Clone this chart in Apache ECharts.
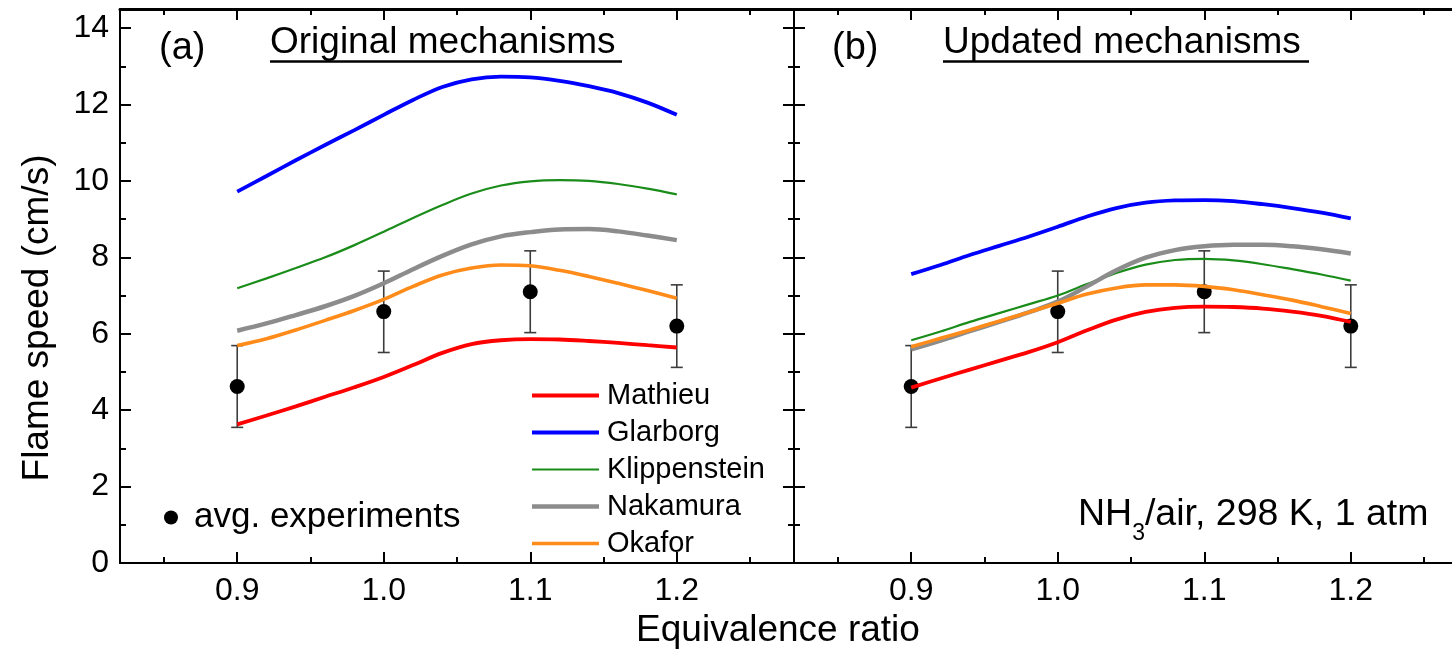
<!DOCTYPE html>
<html>
<head>
<meta charset="utf-8">
<title>NH3/air laminar flame speed</title>
<script src="https://cdn.jsdelivr.net/npm/echarts@6/dist/echarts.min.js"></script>
<style>
  html, body { margin: 0; padding: 0; background: #ffffff; }
  #chart { width: 1452px; height: 662px; }
</style>
</head>
<body>
<div id="chart"></div>
<script>
// Equivalence ratios at which the simulated curves are sampled
const phi = [0.90, 0.92, 0.94, 0.96, 0.98, 1.00, 1.02, 1.04, 1.06, 1.08, 1.10, 1.12, 1.14, 1.16, 1.18, 1.20];

// (a) original mechanisms, flame speed in cm/s
const origMathieu      = [3.63, 3.86, 4.10, 4.35, 4.60, 4.87, 5.18, 5.50, 5.73, 5.83, 5.86, 5.85, 5.81, 5.76, 5.70, 5.64];
const origGlarborg     = [9.72, 10.13, 10.54, 10.94, 11.33, 11.73, 12.12, 12.46, 12.66, 12.73, 12.71, 12.62, 12.48, 12.30, 12.05, 11.73];
const origKlippenstein = [7.19, 7.45, 7.72, 8.00, 8.32, 8.67, 9.03, 9.37, 9.67, 9.88, 9.99, 10.02, 10.00, 9.92, 9.80, 9.65];
const origNakamura     = [6.08, 6.27, 6.49, 6.72, 6.99, 7.32, 7.69, 8.04, 8.34, 8.55, 8.66, 8.73, 8.74, 8.68, 8.57, 8.45];
const origOkafor       = [5.69, 5.87, 6.10, 6.35, 6.61, 6.90, 7.24, 7.54, 7.72, 7.80, 7.78, 7.66, 7.50, 7.32, 7.13, 6.93];

// (b) updated mechanisms, flame speed in cm/s
const updMathieu      = [4.59, 4.83, 5.06, 5.29, 5.52, 5.78, 6.09, 6.37, 6.57, 6.68, 6.71, 6.70, 6.66, 6.58, 6.47, 6.31];
const updGlarborg     = [7.56, 7.80, 8.06, 8.30, 8.54, 8.80, 9.07, 9.29, 9.43, 9.49, 9.50, 9.47, 9.39, 9.29, 9.17, 9.02];
const updKlippenstein = [5.83, 6.06, 6.31, 6.54, 6.77, 7.00, 7.30, 7.59, 7.81, 7.93, 7.96, 7.92, 7.82, 7.69, 7.55, 7.39];
const updNakamura     = [5.59, 5.82, 6.07, 6.31, 6.56, 6.84, 7.24, 7.66, 7.99, 8.19, 8.29, 8.33, 8.33, 8.29, 8.21, 8.10];
const updOkafor       = [5.66, 5.88, 6.10, 6.33, 6.56, 6.80, 7.04, 7.20, 7.28, 7.28, 7.24, 7.15, 7.02, 6.88, 6.71, 6.53];

// Averaged experiments with their uncertainty range
const expPhi   = [0.9, 1.0, 1.1, 1.2];
const expSpeed = [4.62, 6.58, 7.10, 6.20];
const expLow   = [3.55, 5.51, 6.03, 5.12];
const expHigh  = [5.69, 7.64, 8.17, 7.28];

// Mechanism names and colours
const mechNames  = ['Mathieu', 'Glarborg', 'Klippenstein', 'Nakamura', 'Okafor'];
const mechColors = ['#ff0000', '#0000ff', '#1a8c1a', '#8c8c8c', '#ff8c1a'];
const mechWidths = [3.8, 3.8, 2.2, 4.5, 3.6];

// Tick values
const xMajorTicks = [0.9, 1.0, 1.1, 1.2];
const xMinorTicks = [0.85, 0.95, 1.05, 1.15, 1.25];
const yMajorTicks = [0, 2, 4, 6, 8, 10, 12, 14];
const yMinorTicks = [1, 3, 5, 7, 9, 11, 13];

const FONT = '"Liberation Sans", Arial, Helvetica, sans-serif';
const X_MIN = 0.82, X_MAX = 1.28, Y_MIN = 0, Y_MAX = 14.5;

const origSets = [origMathieu, origGlarborg, origKlippenstein, origNakamura, origOkafor];
const updSets  = [updMathieu, updGlarborg, updKlippenstein, updNakamura, updOkafor];

function xAxisSet(gridIndex, showLabels) {
  const base = { type: 'value', gridIndex, min: X_MIN, max: X_MAX, splitLine: { show: false } };
  return [
    Object.assign({}, base, {
      position: 'bottom',
      axisLine: { onZero: false, lineStyle: { color: '#000', width: 2 } },
      axisTick: { inside: true, length: 11, customValues: xMajorTicks, lineStyle: { color: '#000', width: 2 } },
      axisLabel: { show: showLabels, customValues: xMajorTicks, margin: 12, fontSize: 32, color: '#000',
                   fontFamily: FONT, formatter: v => v.toFixed(1) }
    }),
    Object.assign({}, base, {
      position: 'bottom',
      axisLine: { show: false, onZero: false },
      axisTick: { inside: true, length: 6, customValues: xMinorTicks, lineStyle: { color: '#000', width: 2 } },
      axisLabel: { show: false }
    }),
    Object.assign({}, base, {
      position: 'top',
      axisLine: { onZero: false, lineStyle: { color: '#000', width: 3 } },
      axisTick: { inside: true, length: 11, customValues: xMajorTicks, lineStyle: { color: '#000', width: 2 } },
      axisLabel: { show: false }
    }),
    Object.assign({}, base, {
      position: 'top',
      axisLine: { show: false, onZero: false },
      axisTick: { inside: true, length: 6, customValues: xMinorTicks, lineStyle: { color: '#000', width: 2 } },
      axisLabel: { show: false }
    })
  ];
}

function yAxisPair(gridIndex, position, showLabels) {
  const base = { type: 'value', gridIndex, min: Y_MIN, max: Y_MAX, position, splitLine: { show: false } };
  return [
    Object.assign({}, base, {
      axisLine: { show: true, onZero: false, lineStyle: { color: '#000', width: 2 } },
      axisTick: { inside: true, length: 11, customValues: yMajorTicks, lineStyle: { color: '#000', width: 2 } },
      axisLabel: { show: showLabels, customValues: yMajorTicks, margin: 11, fontSize: 32, color: '#000',
                   fontFamily: FONT }
    }),
    Object.assign({}, base, {
      axisLine: { show: false, onZero: false },
      axisTick: { inside: true, length: 6, customValues: yMinorTicks, lineStyle: { color: '#000', width: 2 } },
      axisLabel: { show: false }
    })
  ];
}

// Error bars: vertical line with a cap at each end
function renderErrorBar(params, api) {
  const x = api.value(0);
  const lo = api.coord([x, api.value(1)]);
  const hi = api.coord([x, api.value(2)]);
  const cap = 6;
  const style = { stroke: '#3c3c3c', lineWidth: 1.6 };
  return {
    type: 'group',
    children: [
      { type: 'line', shape: { x1: lo[0], y1: lo[1], x2: hi[0], y2: hi[1] }, style },
      { type: 'line', shape: { x1: lo[0] - cap, y1: lo[1], x2: lo[0] + cap, y2: lo[1] }, style },
      { type: 'line', shape: { x1: hi[0] - cap, y1: hi[1], x2: hi[0] + cap, y2: hi[1] }, style }
    ]
  };
}

function panelSeries(xIdx, yIdx, sets) {
  const out = [];
  out.push({
    type: 'custom', name: 'error', xAxisIndex: xIdx, yAxisIndex: yIdx, z: 2,
    renderItem: renderErrorBar, encode: { x: 0, y: [1, 2] },
    data: expPhi.map((p, i) => [p, expLow[i], expHigh[i]]), silent: true
  });
  out.push({
    type: 'scatter', name: 'avg. experiments', xAxisIndex: xIdx, yAxisIndex: yIdx, z: 3,
    symbol: 'circle', symbolSize: 15, itemStyle: { color: '#000', opacity: 1 },
    data: expPhi.map((p, i) => [p, expSpeed[i]])
  });
  sets.forEach((vals, k) => {
    out.push({
      type: 'line', name: mechNames[k], xAxisIndex: xIdx, yAxisIndex: yIdx, z: 4,
      smooth: 0.35, symbol: 'none', showSymbol: false,
      itemStyle: { color: mechColors[k] },
      lineStyle: { color: mechColors[k], width: mechWidths[k] },
      data: phi.map((p, i) => [p, vals[i]])
    });
  });
  return out;
}

function lineIcon(w) {
  const h = (100 * w / 67).toFixed(2);
  return 'path://M0,0H100V' + h + 'H0Z';
}

const chart = echarts.init(document.getElementById('chart'), null, { renderer: 'canvas' });

const option = {
  animation: false,
  backgroundColor: '#ffffff',
  textStyle: { fontFamily: FONT, color: '#000' },
  grid: [
    { left: 120, top: 9, width: 674, bottom: 99, containLabel: false, outerBoundsMode: 'none' },
    { left: 794, top: 9, width: 674, bottom: 99, containLabel: false, outerBoundsMode: 'none' }
  ],
  xAxis: [].concat(xAxisSet(0, true), xAxisSet(1, true)),
  yAxis: [].concat(yAxisPair(0, 'left', true), yAxisPair(0, 'right', false), yAxisPair(1, 'left', false)),
  legend: [
    {
      orient: 'vertical', left: 532, top: 381, padding: 0,
      itemWidth: 67, itemHeight: 28, itemGap: 8,
      symbolKeepAspect: true, selectedMode: false,
      textStyle: { fontSize: 29, fontFamily: FONT, color: '#000', padding: [0, 0, 0, 3] },
      data: mechNames.map((n, i) => ({ name: n, icon: lineIcon(mechWidths[i]) }))
    },
    {
      orient: 'vertical', left: 164, top: 500, padding: 0,
      itemWidth: 14, itemHeight: 14, selectedMode: false,
      itemStyle: { opacity: 1 },
      textStyle: { fontSize: 35, fontFamily: FONT, color: '#000', padding: [0, 0, 0, 11] },
      data: [{ name: 'avg. experiments', icon: 'circle' }]
    }
  ],
  series: [].concat(panelSeries(0, 0, origSets), panelSeries(4, 4, updSets)),
  graphic: [
    { type: 'text', x: 159, y: 49, silent: true,
      style: { text: '(a)', font: '38px ' + FONT, fill: '#000', align: 'left', verticalAlign: 'middle',
               textAlign: 'left', textVerticalAlign: 'middle' } },
    { type: 'text', x: 270, y: 43, silent: true,
      style: { text: 'Original mechanisms', font: '37px ' + FONT, fill: '#000', align: 'left', verticalAlign: 'middle',
               textAlign: 'left', textVerticalAlign: 'middle' } },
    { type: 'line', silent: true, shape: { x1: 270, y1: 61.5, x2: 622, y2: 61.5 }, style: { stroke: '#000', lineWidth: 2.5 } },
    { type: 'text', x: 832, y: 49, silent: true,
      style: { text: '(b)', font: '38px ' + FONT, fill: '#000', align: 'left', verticalAlign: 'middle',
               textAlign: 'left', textVerticalAlign: 'middle' } },
    { type: 'text', x: 943, y: 43, silent: true,
      style: { text: 'Updated mechanisms', font: '37px ' + FONT, fill: '#000', align: 'left', verticalAlign: 'middle',
               textAlign: 'left', textVerticalAlign: 'middle' } },
    { type: 'line', silent: true, shape: { x1: 943, y1: 61.5, x2: 1309, y2: 61.5 }, style: { stroke: '#000', lineWidth: 2.5 } },
    { type: 'text', x: 1078, y: 515, silent: true,
      style: {
        text: '{m|NH}{s|3}{m|/air, 298 K, 1 atm}',
        align: 'left', verticalAlign: 'middle', textAlign: 'left', textVerticalAlign: 'middle',
        rich: {
          m: { fontSize: 37.5, fontFamily: FONT, fill: '#000', color: '#000', verticalAlign: 'middle' },
          s: { fontSize: 23, fontFamily: FONT, fill: '#000', color: '#000', verticalAlign: 'bottom',
               padding: [38, 0, 0, 0] }
        }
      } },
    { type: 'text', x: 778, y: 631, silent: true,
      style: { text: 'Equivalence ratio', font: '37px ' + FONT, fill: '#000', align: 'center', verticalAlign: 'middle',
               textAlign: 'center', textVerticalAlign: 'middle' } },
    { type: 'text', x: 38, y: 318, rotation: Math.PI / 2, silent: true,
      style: { text: 'Flame speed (cm/s)', font: '37px ' + FONT, fill: '#000', align: 'center', verticalAlign: 'middle',
               textAlign: 'center', textVerticalAlign: 'middle' } }
  ]
};

chart.setOption(option);
</script>
</body>
</html>
